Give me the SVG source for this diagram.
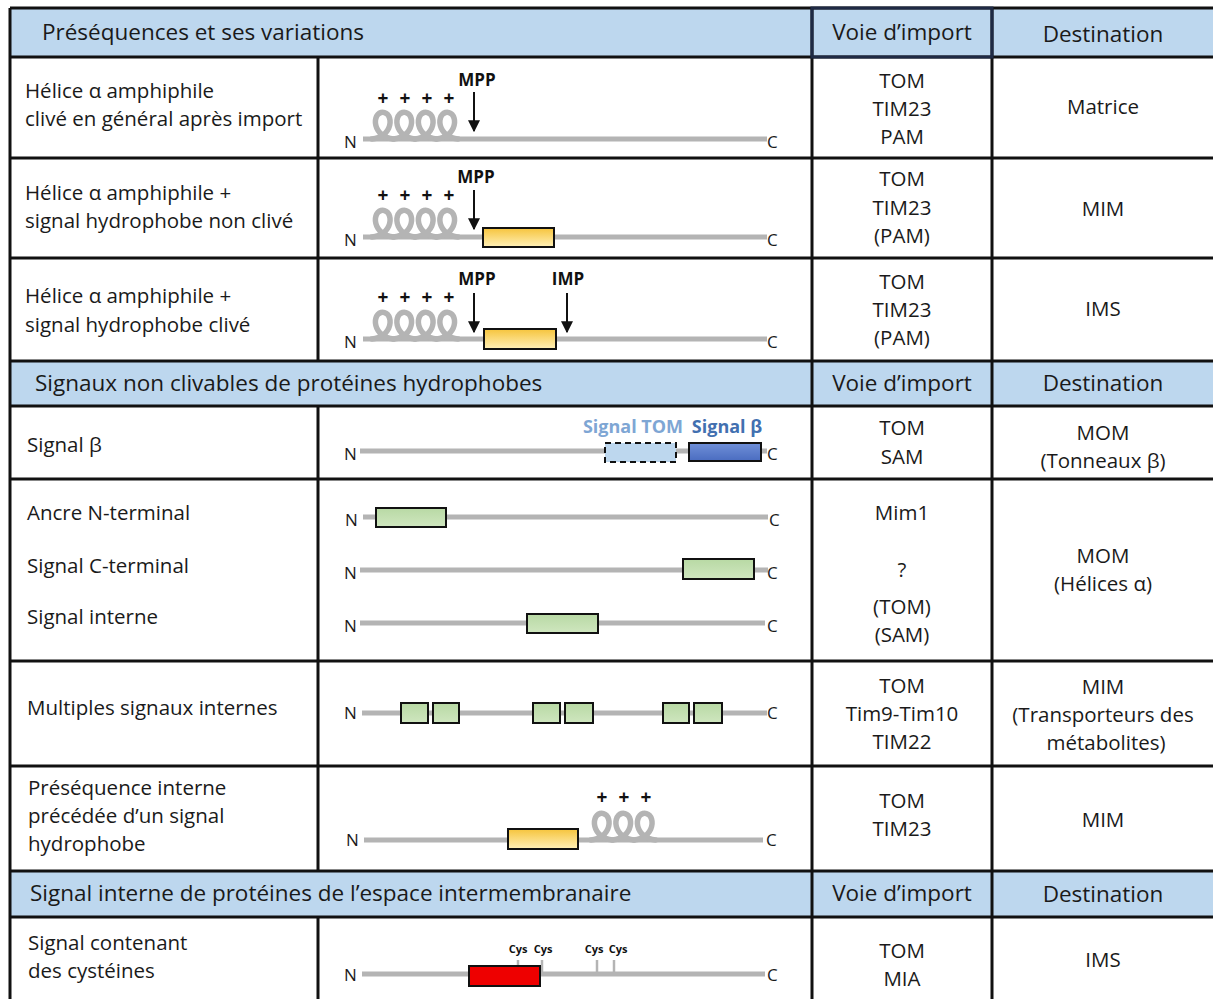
<svg xmlns="http://www.w3.org/2000/svg" xmlns:xlink="http://www.w3.org/1999/xlink" width="1213" height="999" viewBox="0 0 1213 999">
<style>
.t{font-family:"Open Sans","Liberation Sans",sans-serif;font-size:20.5px;fill:#1a1a1a}
.h{font-family:"Open Sans","Liberation Sans",sans-serif;font-size:22.5px;fill:#1a1a1a}
.c{text-anchor:middle}
.nc{font-family:"Open Sans","Liberation Sans",sans-serif;font-size:17px;fill:#1a1a1a}
.b{font-family:"Open Sans","Liberation Sans",sans-serif;font-weight:bold;fill:#111}
.pl{font-size:19px;text-anchor:middle}
.prot{stroke:#b4b4b4;stroke-width:5;fill:none;stroke-linecap:butt}
.coil{stroke:#b4b4b4;stroke-width:5.5;fill:none;stroke-linecap:round;stroke-linejoin:round}
.grid{stroke:#111;stroke-width:3;fill:none}
.hdr{fill:#bdd7ee}
.box{stroke:#111;stroke-width:2}
.arr{stroke:#111;stroke-width:2;marker-end:url(#ah)}
.tick{stroke:#b4b4b4;stroke-width:2.5}
</style>
<defs>
<marker id="ah" viewBox="0 0 10 10" refX="9" refY="5" markerWidth="6" markerHeight="6" markerUnits="strokeWidth" orient="auto"><path d="M0,0 L10,5 L0,10 z" fill="#111"/></marker>
<linearGradient id="gy" x1="0" y1="0" x2="0" y2="1"><stop offset="0" stop-color="#f6c43c"/><stop offset="1" stop-color="#fff0b8"/></linearGradient>
<linearGradient id="gb" x1="0" y1="0" x2="0" y2="1"><stop offset="0" stop-color="#7090d8"/><stop offset="1" stop-color="#4a6cc0"/></linearGradient>
<linearGradient id="gg" x1="0" y1="0" x2="0" y2="1"><stop offset="0" stop-color="#b8d9a4"/><stop offset="1" stop-color="#cfe6bf"/></linearGradient>
<path id="loop" class="coil" d="M0,0 L3.07,-0.52 Q6.13,-1.03 8.83,-2.49 Q11.53,-3.95 13.56,-6.14 Q15.58,-8.33 16.73,-10.92 Q17.87,-13.5 18.07,-16.09 Q18.26,-18.67 17.58,-20.86 Q16.90,-23.05 15.55,-24.51 Q14.19,-25.97 12.47,-26.49 Q10.74,-27 9.02,-26.49 Q7.30,-25.97 5.95,-24.51 Q4.59,-23.05 3.91,-20.86 Q3.22,-18.67 3.42,-16.09 Q3.62,-13.5 4.77,-10.92 Q5.91,-8.33 7.94,-6.14 Q9.96,-3.95 12.66,-2.49 Q15.36,-1.03 18.43,-0.52 L21.49,0"/>
<g id="coil4"><use xlink:href="#loop" x="0"/><use xlink:href="#loop" x="21.49"/><use xlink:href="#loop" x="42.98"/><use xlink:href="#loop" x="64.47"/></g>
<g id="coil3"><use xlink:href="#loop" x="0"/><use xlink:href="#loop" x="21.49"/><use xlink:href="#loop" x="42.98"/></g>
</defs>
<rect width="1213" height="999" fill="#fff"/>

<g id="headers">
<rect class="hdr" x="10" y="8" width="1203" height="49"/>
<rect class="hdr" x="10" y="361" width="1203" height="45"/>
<rect class="hdr" x="10" y="871" width="1203" height="46"/>
<text class="h" x="42" y="40">Préséquences et ses variations</text>
<text class="h c" x="902" y="40">Voie d’import</text>
<text class="h c" x="1103" y="42">Destination</text>
<text class="h" x="35" y="391">Signaux non clivables de protéines hydrophobes</text>
<text class="h c" x="902" y="391">Voie d’import</text>
<text class="h c" x="1103" y="391">Destination</text>
<text class="h" x="30" y="901">Signal interne de protéines de l’espace intermembranaire</text>
<text class="h c" x="902" y="901">Voie d’import</text>
<text class="h c" x="1103" y="902">Destination</text>
</g>

<g id="grid">
<path class="grid" d="M10,8 H1213 M10,57 H1213 M10,158 H1213 M10,258 H1213 M10,361 H1213 M10,406 H1213 M10,479 H1213 M10,661 H1213 M10,766 H1213 M10,871 H1213 M10,917 H1213"/>
<path class="grid" d="M10,8 V999 M318,57 V361 M318,406 V871 M318,917 V999 M812,8 V999 M992,8 V999"/>
<rect x="812" y="8" width="180" height="49" fill="none" stroke="#1f2a44" stroke-width="3"/>
</g>

<g id="row1">
<text class="t" x="25" y="98">Hélice α amphiphile</text>
<text class="t" x="25" y="126">clivé en général après import</text>
<line class="prot" x1="363" y1="139" x2="767" y2="139"/>
<use xlink:href="#coil4" x="372" y="139"/>
<text class="b pl" x="383" y="105">+</text><text class="b pl" x="405" y="105">+</text><text class="b pl" x="427" y="105">+</text><text class="b pl" x="449" y="105">+</text>
<text class="b c" x="477" y="86" font-size="17">MPP</text>
<text class="nc" x="344" y="148">N</text><text class="nc" x="767" y="148">C</text>
<text class="t c" x="902" y="88">TOM</text><text class="t c" x="902" y="116">TIM23</text><text class="t c" x="902" y="144">PAM</text>
<text class="t c" x="1103" y="114">Matrice</text>
</g>

<g id="row2">
<text class="t" x="25" y="200">Hélice α amphiphile +</text>
<text class="t" x="25" y="228">signal hydrophobe non clivé</text>
<line class="prot" x1="363" y1="237" x2="767" y2="237"/>
<use xlink:href="#coil4" x="372" y="237"/>
<rect class="box" x="483" y="228" width="71" height="19" fill="url(#gy)"/>
<text class="b pl" x="383" y="202">+</text><text class="b pl" x="405" y="202">+</text><text class="b pl" x="427" y="202">+</text><text class="b pl" x="449" y="202">+</text>
<text class="b c" x="476" y="183" font-size="17">MPP</text>
<text class="nc" x="344" y="246">N</text><text class="nc" x="767" y="246">C</text>
<text class="t c" x="902" y="186">TOM</text><text class="t c" x="902" y="215">TIM23</text><text class="t c" x="902" y="243">(PAM)</text>
<text class="t c" x="1103" y="216">MIM</text>
</g>

<g id="row3">
<text class="t" x="25" y="303">Hélice α amphiphile +</text>
<text class="t" x="25" y="332">signal hydrophobe clivé</text>
<line class="prot" x1="363" y1="339" x2="767" y2="339"/>
<use xlink:href="#coil4" x="372" y="339"/>
<rect class="box" x="484" y="329" width="72" height="20" fill="url(#gy)"/>
<text class="b pl" x="383" y="304">+</text><text class="b pl" x="405" y="304">+</text><text class="b pl" x="427" y="304">+</text><text class="b pl" x="449" y="304">+</text>
<text class="b c" x="477" y="285" font-size="17">MPP</text>
<text class="b c" x="568" y="285" font-size="17">IMP</text>
<text class="nc" x="344" y="348">N</text><text class="nc" x="767" y="348">C</text>
<text class="t c" x="902" y="289">TOM</text><text class="t c" x="902" y="317">TIM23</text><text class="t c" x="902" y="345">(PAM)</text>
<text class="t c" x="1103" y="316">IMS</text>
</g>

<g id="row4">
<text class="t" x="27" y="452">Signal β</text>
<line class="prot" x1="360" y1="451" x2="767" y2="451"/>
<rect x="605" y="443" width="71" height="19" fill="#bdd7ee" stroke="#111" stroke-width="2" stroke-dasharray="6,4"/>
<rect class="box" x="689" y="443" width="72" height="18" fill="url(#gb)"/>
<text class="b c" x="633" y="433" font-size="18" style="fill:#7ea6d4">Signal TOM</text>
<text class="b c" x="727" y="433" font-size="18" style="fill:#4270b0">Signal β</text>
<text class="nc" x="344" y="460">N</text><text class="nc" x="767" y="460">C</text>
<text class="t c" x="902" y="435">TOM</text><text class="t c" x="902" y="464">SAM</text>
<text class="t c" x="1103" y="440">MOM</text><text class="t c" x="1103" y="468">(Tonneaux β)</text>
</g>

<g id="row5">
<text class="t" x="27" y="520">Ancre N-terminal</text>
<text class="t" x="27" y="573">Signal C-terminal</text>
<text class="t" x="27" y="624">Signal interne</text>
<line class="prot" x1="363" y1="517" x2="768" y2="517"/>
<rect class="box" x="376" y="508" width="70" height="19" fill="url(#gg)"/>
<line class="prot" x1="360" y1="570" x2="768" y2="570"/>
<rect class="box" x="683" y="559" width="71" height="20" fill="url(#gg)"/>
<line class="prot" x1="360" y1="623" x2="765" y2="623"/>
<rect class="box" x="527" y="614" width="71" height="19" fill="url(#gg)"/>
<text class="nc" x="345" y="526">N</text><text class="nc" x="769" y="526">C</text>
<text class="nc" x="344" y="579">N</text><text class="nc" x="767" y="579">C</text>
<text class="nc" x="344" y="632">N</text><text class="nc" x="767" y="632">C</text>
<text class="t c" x="902" y="520">Mim1</text>
<text class="t c" x="902" y="577">?</text>
<text class="t c" x="902" y="614">(TOM)</text><text class="t c" x="902" y="642">(SAM)</text>
<text class="t c" x="1103" y="563">MOM</text><text class="t c" x="1103" y="591">(Hélices α)</text>
</g>

<g id="row6">
<text class="t" x="27" y="715">Multiples signaux internes</text>
<line class="prot" x1="362" y1="713" x2="767" y2="713"/>
<rect class="box" x="401" y="703" width="27" height="20" fill="url(#gg)"/>
<rect class="box" x="433" y="703" width="26" height="20" fill="url(#gg)"/>
<rect class="box" x="533" y="703" width="27" height="20" fill="url(#gg)"/>
<rect class="box" x="565" y="703" width="28" height="20" fill="url(#gg)"/>
<rect class="box" x="663" y="703" width="26" height="20" fill="url(#gg)"/>
<rect class="box" x="694" y="703" width="28" height="20" fill="url(#gg)"/>
<text class="nc" x="344" y="719">N</text><text class="nc" x="767" y="719">C</text>
<text class="t c" x="902" y="693">TOM</text><text class="t c" x="902" y="721">Tim9-Tim10</text><text class="t c" x="902" y="749">TIM22</text>
<text class="t c" x="1103" y="694">MIM</text><text class="t c" x="1103" y="722">(Transporteurs des</text><text class="t c" x="1106" y="750">métabolites)</text>
</g>

<g id="row7">
<text class="t" x="28" y="795">Préséquence interne</text>
<text class="t" x="28" y="823">précédée d’un signal</text>
<text class="t" x="28" y="851">hydrophobe</text>
<line class="prot" x1="364" y1="840" x2="763" y2="840"/>
<use xlink:href="#coil3" x="591" y="840"/>
<rect class="box" x="508" y="829" width="70" height="20" fill="url(#gy)"/>
<text class="b pl" x="602" y="804">+</text><text class="b pl" x="624" y="804">+</text><text class="b pl" x="646" y="804">+</text>
<text class="nc" x="346" y="846">N</text><text class="nc" x="766" y="846">C</text>
<text class="t c" x="902" y="808">TOM</text><text class="t c" x="902" y="836">TIM23</text>
<text class="t c" x="1103" y="827">MIM</text>
</g>

<g id="row8">
<text class="t" x="28" y="950">Signal contenant</text>
<text class="t" x="28" y="978">des cystéines</text>
<line class="prot" x1="362" y1="974" x2="765" y2="974"/>
<line class="tick" x1="518" y1="960" x2="518" y2="974"/><line class="tick" x1="542" y1="960" x2="542" y2="974"/>
<line class="tick" x1="597" y1="960" x2="597" y2="974"/><line class="tick" x1="614" y1="960" x2="614" y2="974"/>
<rect class="box" x="469" y="966" width="71" height="20" fill="#ee0000"/>
<text class="b c" x="518" y="953" font-size="11">Cys</text><text class="b c" x="543" y="953" font-size="11">Cys</text>
<text class="b c" x="594" y="953" font-size="11">Cys</text><text class="b c" x="618" y="953" font-size="11">Cys</text>
<text class="nc" x="344" y="981">N</text><text class="nc" x="767" y="981">C</text>
<text class="t c" x="902" y="958">TOM</text><text class="t c" x="902" y="986">MIA</text>
<text class="t c" x="1103" y="967">IMS</text>
</g>

<g id="connectors">
<line class="arr" x1="474" y1="92" x2="474" y2="131"/>
<line class="arr" x1="474" y1="190" x2="474" y2="229"/>
<line class="arr" x1="474" y1="293" x2="474" y2="332"/>
<line class="arr" x1="567" y1="293" x2="567" y2="332"/>
</g>
</svg>
